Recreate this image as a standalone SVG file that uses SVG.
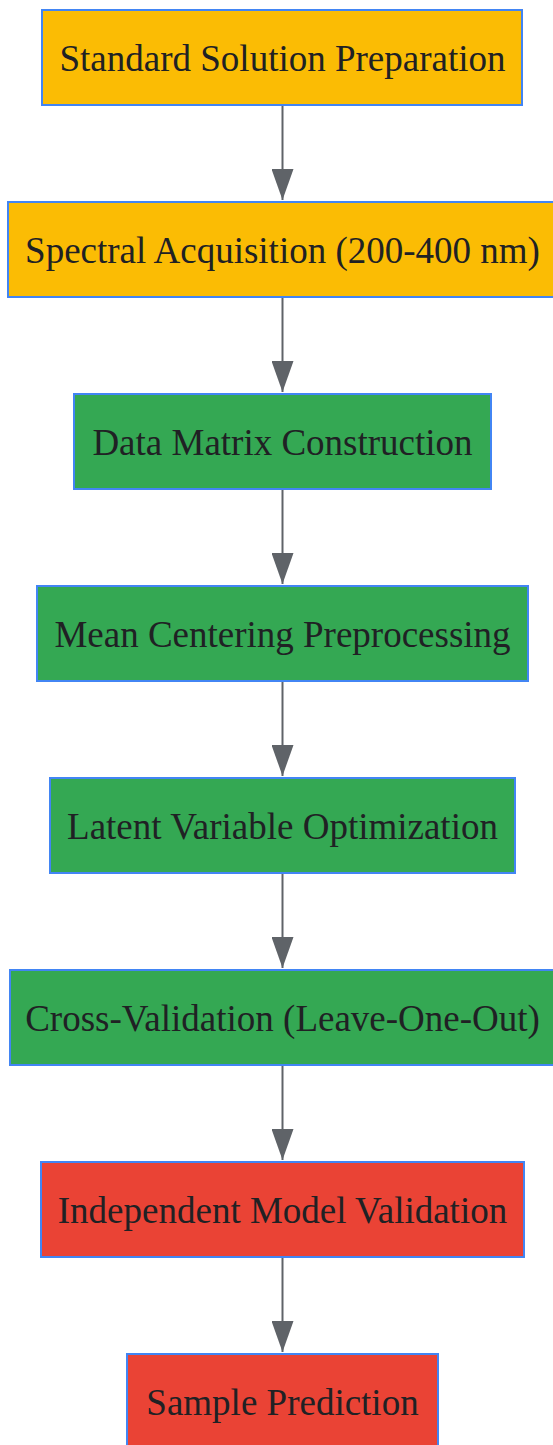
<svg xmlns="http://www.w3.org/2000/svg" width="553" height="1445" viewBox="0 0 553 1445">
<defs>
<style>
.n rect{stroke:#4285f4;stroke-width:2}
.y rect{fill:#fbbc04}
.g rect{fill:#34a853}
.r rect{fill:#ea4335}
.n text{font-family:"Liberation Serif","Times New Roman",serif;font-size:37px;fill:#202124;text-anchor:middle}
.e{stroke:#5f6368;stroke-width:2;fill:none}
</style>
<marker id="arr" viewBox="0 0 31 22" refX="31" refY="11" markerWidth="31" markerHeight="22" markerUnits="userSpaceOnUse" orient="auto">
<path d="M0,0 L31,11 L0,22 Z" fill="#5f6368"/>
</marker>
</defs>
<g id="edges">
<line class="e" x1="282.5" y1="105" x2="282.5" y2="200" marker-end="url(#arr)"/>
<line class="e" x1="282.5" y1="297" x2="282.5" y2="392" marker-end="url(#arr)"/>
<line class="e" x1="282.5" y1="489" x2="282.5" y2="584" marker-end="url(#arr)"/>
<line class="e" x1="282.5" y1="681" x2="282.5" y2="776" marker-end="url(#arr)"/>
<line class="e" x1="282.5" y1="873" x2="282.5" y2="968" marker-end="url(#arr)"/>
<line class="e" x1="282.5" y1="1065" x2="282.5" y2="1160" marker-end="url(#arr)"/>
<line class="e" x1="282.5" y1="1257" x2="282.5" y2="1352" marker-end="url(#arr)"/>
</g>
<g id="n1" class="n y"><rect x="42" y="10" width="480" height="95"/><text x="282.5" y="71">Standard Solution Preparation</text></g>
<g id="n2" class="n y"><rect x="8" y="202" width="550" height="95"/><text x="282.5" y="263">Spectral Acquisition (200-400 nm)</text></g>
<g id="n3" class="n g"><rect x="74" y="394" width="417" height="95"/><text x="282.5" y="455">Data Matrix Construction</text></g>
<g id="n4" class="n g"><rect x="37" y="586" width="491" height="95"/><text x="282.5" y="647">Mean Centering Preprocessing</text></g>
<g id="n5" class="n g"><rect x="50" y="778" width="465" height="95"/><text x="282.5" y="839">Latent Variable Optimization</text></g>
<g id="n6" class="n g"><rect x="10" y="970" width="548" height="95"/><text x="282.5" y="1031">Cross-Validation (Leave-One-Out)</text></g>
<g id="n7" class="n r"><rect x="41" y="1162" width="483" height="95"/><text x="282.5" y="1223">Independent Model Validation</text></g>
<g id="n8" class="n r"><rect x="127" y="1354" width="311" height="95"/><text x="282.5" y="1415">Sample Prediction</text></g>
</svg>
